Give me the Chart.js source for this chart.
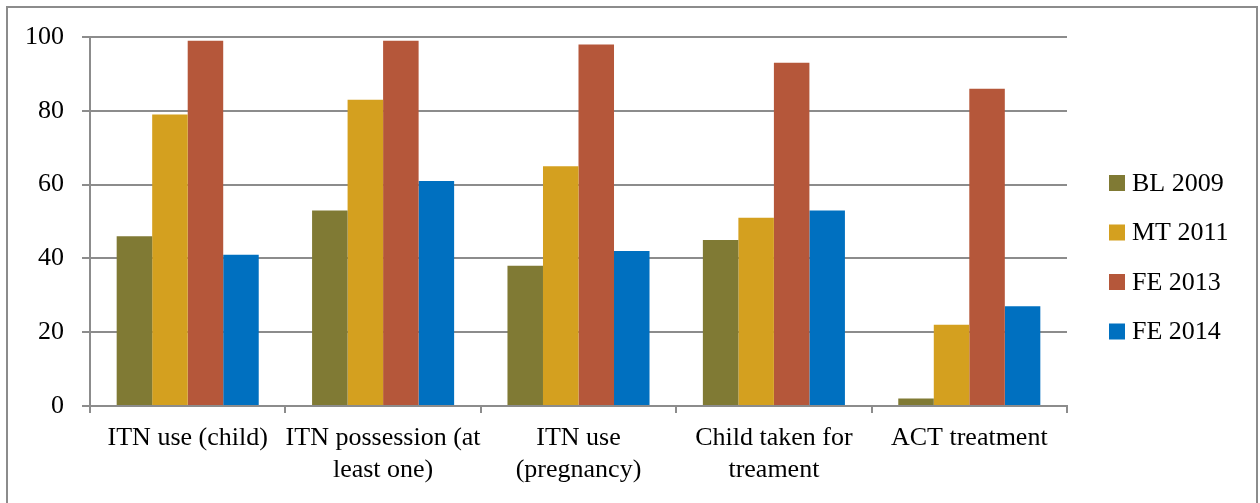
<!DOCTYPE html>
<html>
<head>
<meta charset="utf-8">
<script src="https://cdn.jsdelivr.net/npm/chart.js@4/dist/chart.umd.min.js"></script>
<style>
  html, body { margin: 0; padding: 0; background: #fff; overflow: hidden; }
  canvas { display: block; }
</style>
</head>
<body>
<canvas id="surveyChart" width="1260" height="503"></canvas>
<script>
// 指标类别（多行标签）
const categories = [
  'ITN use (child)',
  ['ITN possession (at', 'least one)'],
  ['ITN use', '(pregnancy)'],
  ['Child taken for', 'treament'],
  'ACT treatment'
];

// 各轮调查数值 (%)
const bl2009 = [46, 53, 38, 45, 2];
const mt2011 = [79, 83, 65, 51, 22];
const fe2013 = [99, 99, 98, 93, 86];
const fe2014 = [41, 61, 42, 53, 27];

const seriesNames = ['BL 2009', 'MT 2011', 'FE 2013', 'FE 2014'];
const seriesColors = ['#807a34', '#d4a01f', '#b5573a', '#0070c0'];
const yTicks = [0, 20, 40, 60, 80, 100];

const FONT = '"Liberation Serif", "Times New Roman", serif';
const GRID = '#8c8c8c';

// 外框 + 白底
const framePlugin = {
  id: 'frame',
  beforeDraw(chart) {
    const ctx = chart.ctx;
    ctx.save();
    ctx.fillStyle = '#fff';
    ctx.fillRect(0, 0, chart.width, chart.height);
    ctx.strokeStyle = GRID;
    ctx.lineWidth = 2;
    ctx.strokeRect(7, 7, 1250, 600);
    ctx.restore();
  }
};

// 右侧图例（手绘，位置好控制）
const sideLegend = {
  id: 'sideLegend',
  afterDraw(chart) {
    const ctx = chart.ctx;
    ctx.save();
    ctx.font = '26px ' + FONT;
    ctx.textBaseline = 'middle';
    chart.data.datasets.forEach((ds, i) => {
      const cy = 183 + i * 49.5;
      ctx.fillStyle = ds.backgroundColor;
      ctx.fillRect(1109, cy - 8, 16, 16);
      ctx.fillStyle = '#000';
      ctx.fillText(ds.label, 1132, cy + 1);
    });
    ctx.restore();
  }
};

const seriesData = [bl2009, mt2011, fe2013, fe2014];

new Chart(document.getElementById('surveyChart'), {
  type: 'bar',
  data: {
    labels: categories,
    datasets: seriesData.map((vals, i) => ({
      label: seriesNames[i],
      data: vals,
      backgroundColor: seriesColors[i],
      borderWidth: 0,
      categoryPercentage: 0.727,
      barPercentage: 1
    }))
  },
  options: {
    responsive: false,
    animation: false,
    devicePixelRatio: 1,
    layout: {
      padding: { left: 0, top: 37, right: 193, bottom: 0 }
    },
    plugins: {
      legend: { display: false },
      tooltip: { enabled: false }
    },
    scales: {
      x: {
        grid: {
          offset: true,
          drawOnChartArea: false,
          drawTicks: true,
          tickLength: 7,
          color: GRID,
          lineWidth: 2
        },
        border: { display: true, color: GRID, width: 2 },
        ticks: {
          color: '#000',
          font: { family: FONT, size: 26, lineHeight: 1.2 },
          padding: 10,
          maxRotation: 0,
          autoSkip: false
        },
        afterFit(scale) { scale.height = 97; }
      },
      y: {
        min: 0,
        max: 100,
        grid: {
          color: GRID,
          lineWidth: 2,
          tickLength: 8,
          drawTicks: true
        },
        border: { display: true, color: GRID, width: 2 },
        ticks: {
          stepSize: 20,
          color: '#000',
          font: { family: FONT, size: 26 },
          padding: 18,
          callback: (v) => yTicks.includes(v) ? String(v) : ''
        },
        afterFit(scale) { scale.width = 90; }
      }
    }
  },
  plugins: [framePlugin, sideLegend]
});
</script>
</body>
</html>
